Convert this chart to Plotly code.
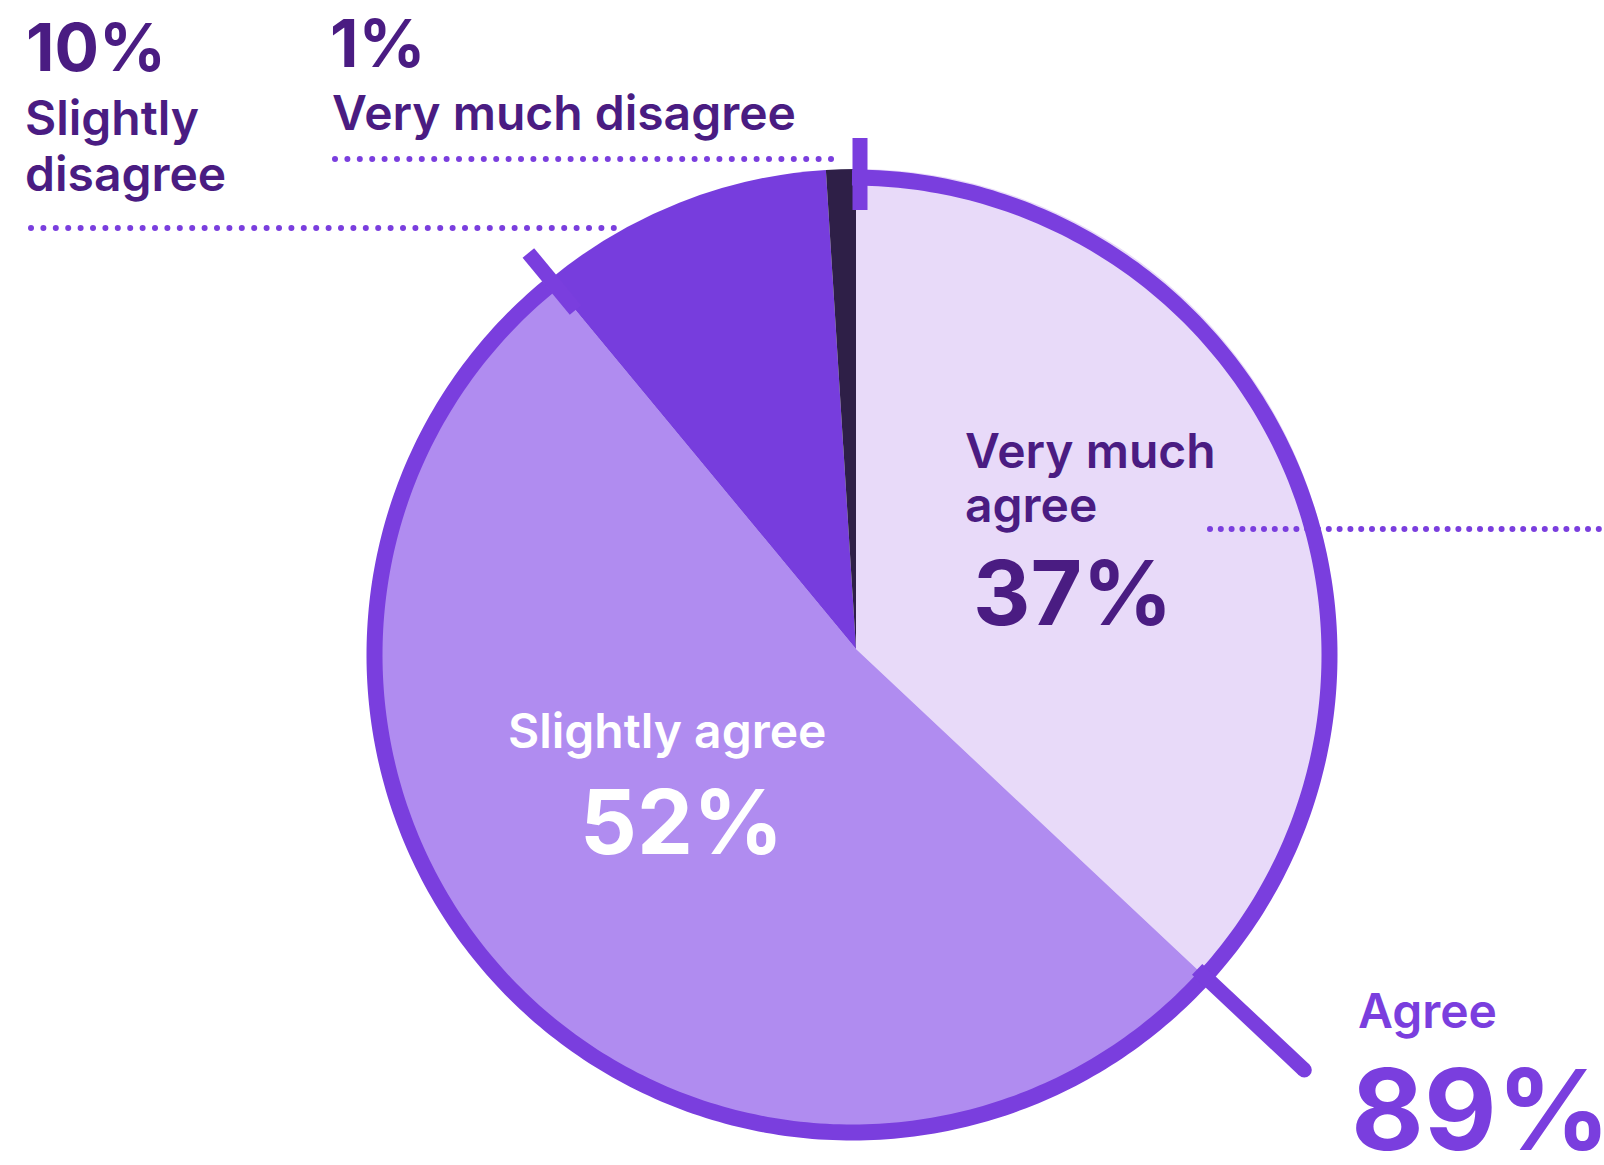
import numpy as np
import plotly.graph_objects as go

W, H = 1604, 1165

# Survey answers (percent of respondents)
categories = ["Very much agree", "Slightly agree", "Slightly disagree", "Very much disagree"]
values = [37, 52, 10, 1]
agree_categories = ["Very much agree", "Slightly agree"]

slice_colors = ["#E8DAF9", "#B08CF0", "#773DDD", "#2E1F47"]
ACCENT = "#7A3EDE"
DARK = "#4A1C82"
FONT = "Inter"

# pie and outline arc geometry (pixels from the top-left corner)
PIE_CX, PIE_CY, PIE_R = 856, 649, 480
RING_CX, RING_CY, RING_R, RING_W = 852, 655, 477.5, 16


def px(x):
    return x / W


def py(y):
    return 1 - y / H


def polar(cx, cy, r, theta_deg):
    t = np.radians(theta_deg)
    return cx + r * np.sin(t), cy - r * np.cos(t)


total = sum(values)
cum = np.cumsum(values)
boundary = {c: 360.0 * v / total for c, v in zip(categories, cum)}
agree_total = sum(v for c, v in zip(categories, values) if c in agree_categories)
agree_end = boundary[agree_categories[-1]]

fig = go.Figure()
fig.add_trace(go.Pie(
    labels=categories,
    values=values,
    sort=False,
    direction="clockwise",
    rotation=0,
    marker=dict(colors=slice_colors, line=dict(width=0)),
    textinfo="none",
    hoverinfo="skip",
    showlegend=False,
    domain=dict(
        x=[px(PIE_CX - PIE_R), px(PIE_CX + PIE_R)],
        y=[py(PIE_CY + PIE_R), py(PIE_CY - PIE_R)],
    ),
))

shapes = []


def dotted(y, x_start, x_end, step, d=6):
    for x in np.arange(x_start, x_end + 0.1, step):
        shapes.append(dict(
            type="circle", xref="paper", yref="paper",
            x0=px(x - d / 2), x1=px(x + d / 2), y0=py(y + d / 2), y1=py(y - d / 2),
            fillcolor=ACCENT, line=dict(width=0), layer="above",
        ))


# leader lines under the labels
dotted(159, 335, 832, 12.4)
dotted(228, 31, 614, 12.4)
dotted(529, 1210, 1604, 10.8)

# outline arc spanning the "agree" answers
arc_angles = np.linspace(0, agree_end, 400)
pts = [polar(RING_CX, RING_CY, RING_R, a) for a in arc_angles]
path = "M " + " L ".join(f"{px(x):.6f},{py(y):.6f}" for x, y in pts)
shapes.append(dict(
    type="path", xref="paper", yref="paper", path=path,
    line=dict(color=ACCENT, width=RING_W), fillcolor="rgba(0,0,0,0)", layer="above",
))


def tick(theta, r0, r1, width=15, dx=0.0):
    x0, y0 = polar(PIE_CX + dx, PIE_CY, r0, theta)
    x1, y1 = polar(PIE_CX + dx, PIE_CY, r1, theta)
    shapes.append(dict(
        type="line", xref="paper", yref="paper",
        x0=px(x0), y0=py(y0), x1=px(x1), y1=py(y1),
        line=dict(color=ACCENT, width=width), layer="above",
    ))
    return x1, y1


# ticks at both ends of the agree arc, plus a leader to the agree total
tick(0.0, 439, 511, dx=4)
tick(agree_end, 440, 514)
ex, ey = tick(boundary["Very much agree"], 468, 615)
shapes.append(dict(
    type="circle", xref="paper", yref="paper",
    x0=px(ex - 7.5), x1=px(ex + 7.5), y0=py(ey + 7.5), y1=py(ey - 7.5),
    fillcolor=ACCENT, line=dict(width=0), layer="above",
))

annotations = []


def label(text, x, y, size, color, weight=600, xanchor="left"):
    annotations.append(dict(
        text=text, x=px(x), y=py(y), xref="paper", yref="paper",
        xanchor=xanchor, yanchor="middle", showarrow=False, borderpad=0,
        font=dict(family=FONT, size=size, color=color, weight=weight),
    ))


pct = dict(zip(categories, values))

label(f"{pct['Slightly disagree']}%", 25, 47, 66, DARK, 700)
label("Slightly", 24, 118, 48, DARK)
label("disagree", 24, 173, 48, DARK)

label(f"{pct['Very much disagree']}%", 329, 43, 66, DARK, 700)
label("Very much disagree", 331, 113, 48, DARK)

label("Very much", 964, 450, 48, DARK)
label("agree", 964, 504, 48, DARK)
label(f"{pct['Very much agree']}%", 972, 592, 89, DARK, 700)

label("Slightly agree", 667, 730, 48, "#FFFFFF", 600, "center")
label(f"{pct['Slightly agree']}%", 681, 821, 89, "#FFFFFF", 700, "center")

label("Agree", 1357, 1010, 48, ACCENT)
label(f"{agree_total}%", 1350, 1109, 112, ACCENT, 700)

fig.update_layout(
    width=W, height=H,
    margin=dict(l=0, r=0, t=0, b=0),
    paper_bgcolor="white",
    plot_bgcolor="white",
    shapes=shapes,
    annotations=annotations,
)

fig.write_html("out.html")
